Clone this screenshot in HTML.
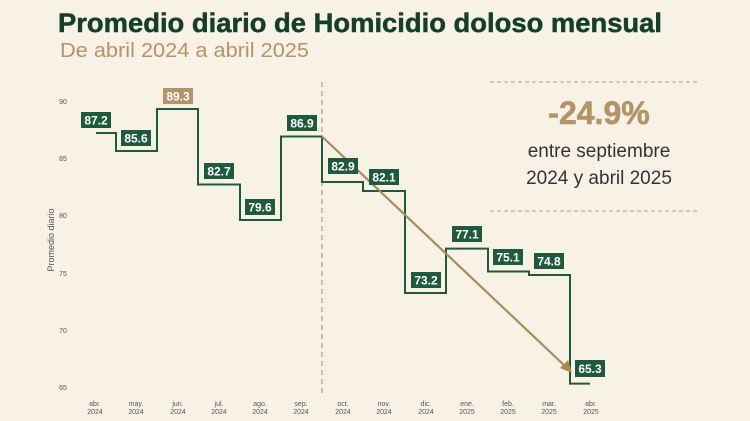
<!DOCTYPE html>
<html><head><meta charset="utf-8"><style>
html,body{margin:0;padding:0;background:#f8f1e6;}
svg{display:block;font-family:"Liberation Sans",sans-serif;}
</style></head><body>
<svg width="750" height="421" viewBox="0 0 750 421" xmlns="http://www.w3.org/2000/svg">
<rect width="750" height="421" fill="#f8f1e6"/>
<text x="58" y="32" font-size="27" font-weight="bold" fill="#163f2b" stroke="#163f2b" stroke-width="0.5" textLength="604" lengthAdjust="spacingAndGlyphs">Promedio diario de Homicidio doloso mensual</text>
<text x="60" y="57" font-size="20" fill="#b3936a" textLength="249" lengthAdjust="spacingAndGlyphs">De abril 2024 a abril 2025</text>

<g font-size="7" fill="#555" text-anchor="middle">
<text x="63" y="104">90</text><text x="63" y="161">85</text><text x="63" y="218">80</text>
<text x="63" y="276">75</text><text x="63" y="333">70</text><text x="63" y="390">65</text>
</g>
<text transform="translate(54,240) rotate(-90)" font-size="9" fill="#555" text-anchor="middle">Promedio diario</text>

<g font-size="7" fill="#555" text-anchor="middle">
<text x="95" y="406">abr.</text><text x="95" y="414">2024</text>
<text x="136" y="406">may.</text><text x="136" y="414">2024</text>
<text x="178" y="406">jun.</text><text x="178" y="414">2024</text>
<text x="219" y="406">jul.</text><text x="219" y="414">2024</text>
<text x="260" y="406">ago.</text><text x="260" y="414">2024</text>
<text x="301" y="406">sep.</text><text x="301" y="414">2024</text>
<text x="343" y="406">oct.</text><text x="343" y="414">2024</text>
<text x="384" y="406">nov.</text><text x="384" y="414">2024</text>
<text x="426" y="406">dic.</text><text x="426" y="414">2024</text>
<text x="467" y="406">ene.</text><text x="467" y="414">2025</text>
<text x="508" y="406">feb.</text><text x="508" y="414">2025</text>
<text x="549" y="406">mar.</text><text x="549" y="414">2025</text>
<text x="591" y="406">abr.</text><text x="591" y="414">2025</text>
</g>

<line x1="322" y1="82" x2="322" y2="395" stroke="#a88b5c" stroke-width="1" stroke-dasharray="5,4"/>

<polyline fill="none" stroke="#1f5a3d" stroke-width="2" points="96,133 116,133 116,151 157,151 157,109 198,109 198,184.5 240,184.5 240,220 281,220 281,136.5 322,136.5 322,182 363,182 363,191 405,191 405,293 446,293 446,248.6 488,248.6 488,271.5 529,271.5 529,275 570,275 570,383.6 590,383.6"/>

<line x1="322" y1="136.5" x2="565" y2="366" stroke="#a88b5c" stroke-width="2.2"/>
<polygon points="572,373 560,368 568,360" fill="#a88b5c"/>

<g font-size="12" font-weight="bold" fill="#fff" text-anchor="middle">
<rect x="81" y="112" width="30" height="16" fill="#1f5a3d"/><text x="96" y="124.5">87.2</text>
<rect x="121" y="130" width="30" height="16" fill="#1f5a3d"/><text x="136" y="142.5">85.6</text>
<rect x="163" y="88" width="30" height="16" fill="#b3936a"/><text x="178" y="100.5">89.3</text>
<rect x="204" y="163" width="30" height="16" fill="#1f5a3d"/><text x="219" y="175.5">82.7</text>
<rect x="245" y="199" width="30" height="16" fill="#1f5a3d"/><text x="260" y="211.5">79.6</text>
<rect x="287" y="115" width="30" height="16" fill="#1f5a3d"/><text x="302" y="127.5">86.9</text>
<rect x="328" y="158" width="30" height="16" fill="#1f5a3d"/><text x="343" y="170.5">82.9</text>
<rect x="369" y="169" width="30" height="16" fill="#1f5a3d"/><text x="384" y="181.5">82.1</text>
<rect x="411" y="272" width="30" height="16" fill="#1f5a3d"/><text x="426" y="284.5">73.2</text>
<rect x="452" y="226" width="30" height="16" fill="#1f5a3d"/><text x="467" y="238.5">77.1</text>
<rect x="493" y="249" width="30" height="16" fill="#1f5a3d"/><text x="508" y="261.5">75.1</text>
<rect x="534" y="253" width="30" height="16" fill="#1f5a3d"/><text x="549" y="265.5">74.8</text>
<rect x="575" y="360" width="30" height="17" fill="#1f5a3d"/><text x="590" y="373">65.3</text>
</g>

<line x1="490" y1="82" x2="700" y2="82" stroke="#b8a07a" stroke-width="1" stroke-dasharray="4,3"/>
<line x1="490" y1="211" x2="700" y2="211" stroke="#b8a07a" stroke-width="1" stroke-dasharray="4,3"/>
<text x="599" y="124" font-size="32" font-weight="bold" fill="#b3936a" stroke="#b3936a" stroke-width="0.6" text-anchor="middle">-24.9%</text>
<text x="599" y="157" font-size="19" fill="#333" text-anchor="middle">entre septiembre</text>
<text x="599" y="184" font-size="19" fill="#333" text-anchor="middle">2024 y abril 2025</text>
</svg>
</body></html>
